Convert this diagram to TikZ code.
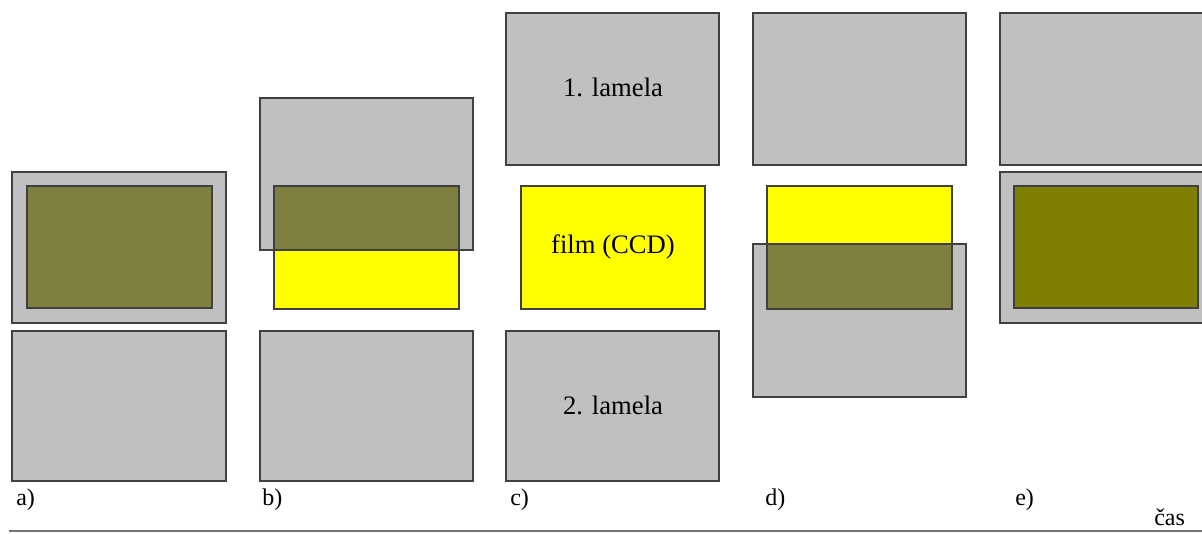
\documentclass[tikz,border=0pt]{standalone}
\usepackage{fontspec}
\setmainfont{Liberation Serif}
\definecolor{lam}{HTML}{C0C0C0}
\definecolor{edge}{HTML}{404040}
\definecolor{ccd}{HTML}{FFFF00}
\definecolor{mix}{HTML}{7F7F3F}
\definecolor{olive}{HTML}{808000}
\begin{document}
\begin{tikzpicture}[x=0.75pt,y=-0.75pt,
  lamela/.style={fill=lam,draw=edge,line width=1.1pt},
  film/.style={fill=ccd,draw=edge,line width=1.1pt},
  mixed/.style={fill=mix},
  border/.style={draw=edge,line width=1.1pt},
  lbl/.style={font=\fontsize{20}{23}\selectfont,inner sep=0pt},
  caption/.style={font=\fontsize{18}{22}\selectfont,inner sep=0pt,anchor=west}]
\useasboundingbox (0,0) rectangle (1202,533);
\clip (0,0) rectangle (1202,533);
% a)
\draw[lamela] (12,172) rectangle (226,323);
\draw[fill=mix,border] (27,186) rectangle (212,308);
\draw[lamela] (12,331) rectangle (226,481);
% b)
\draw[lamela] (260,98) rectangle (473,250);
\draw[film] (274,186) rectangle (459,309);
\fill[mixed] (274,186) rectangle (459,250);
\draw[border] (260,98) rectangle (473,250);
\draw[border] (274,186) rectangle (459,309);
\draw[lamela] (260,331) rectangle (473,481);
% c)
\draw[lamela] (506,13) rectangle (719,165);
\draw[film] (521,186) rectangle (705,309);
\draw[lamela] (506,331) rectangle (719,481);
\node[lbl] (l1) at (613,87) {1. lamela};
\node[lbl] (f) at (613,247) {film (CCD)};
\node[lbl] (l2) at (613,405) {2. lamela};
% d)
\draw[lamela] (753,13) rectangle (966,165);
\draw[film] (767,186) rectangle (952,309);
\draw[lamela] (753,244) rectangle (966,397);
\fill[mixed] (767,244) rectangle (952,309);
\draw[border] (767,186) rectangle (952,309);
\draw[border] (753,244) rectangle (966,397);
% e)
\draw[lamela] (1000,13) rectangle (1215,165);
\draw[lamela] (1000,172) rectangle (1215,323);
\draw[fill=olive,border] (1014,186) rectangle (1198,308);
% labels
\node[caption] (la) at (16,500) {a)};
\node[caption] (lb) at (262,500) {b)};
\node[caption] (lc) at (510,500) {c)};
\node[caption] (ld) at (765,500) {d)};
\node[caption] (le) at (1015,500) {e)};
\node[caption] (cas) at (1154,517) {čas};
% time axis
\coordinate (t0) at (9,531);
\coordinate (t1) at (1202,531);
\draw[draw=gray!90!black,line width=1.6pt] (t0) -- (t1);
\end{tikzpicture}
\end{document}
